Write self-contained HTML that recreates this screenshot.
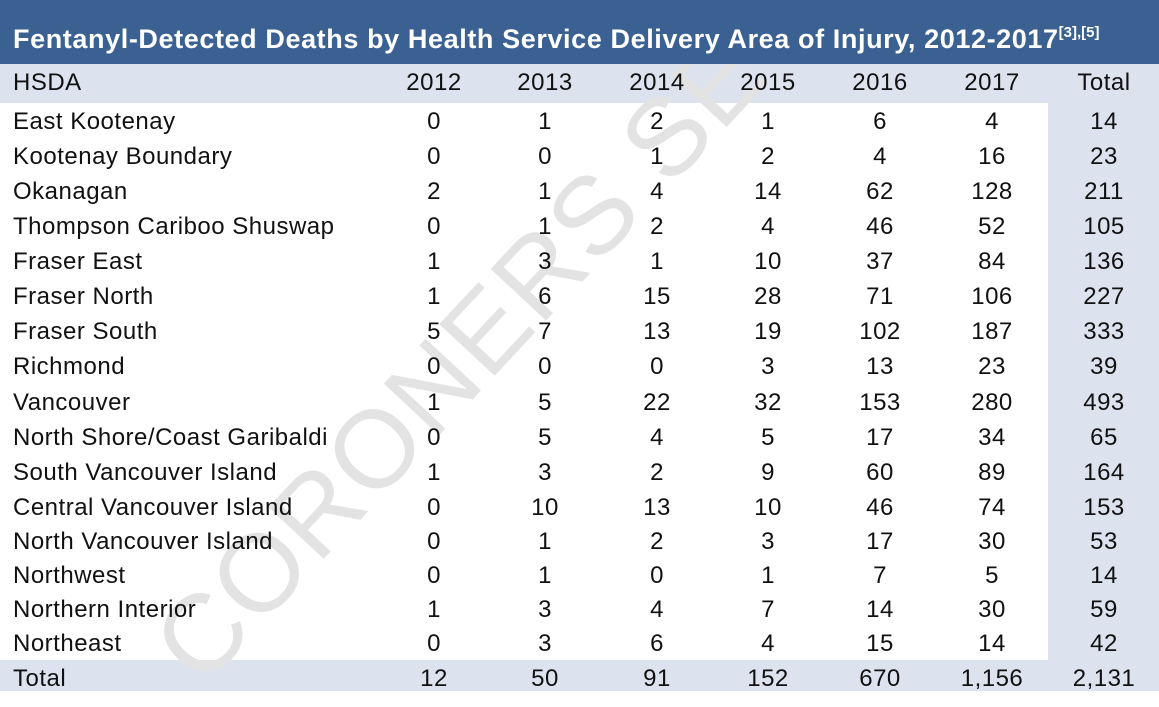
<!DOCTYPE html>
<html><head><style>
body{margin:0;width:1159px;height:691px;overflow:hidden;background:#fff;font-family:"Liberation Sans",sans-serif;position:relative}
.title{position:absolute;left:0;top:0;width:1159px;height:64px;background:#3a6192}
.tt{position:absolute;left:13px;top:24px;color:#fff;font-weight:bold;font-size:27px;line-height:30px;white-space:nowrap;letter-spacing:0.6px}
.tt sup{font-size:15px;position:relative;top:-11px;vertical-align:baseline;line-height:0;letter-spacing:0}
.hdr{position:absolute;left:0;top:64px;width:1159px;height:39px;background:#dce3ef}
.tot{position:absolute;left:0;top:660px;width:1159px;height:31px;background:#dce3ef}
.totc{position:absolute;left:1048px;top:64px;width:111px;height:627px;background:#dce3ef}
.r{position:absolute;left:0;width:1159px;font-size:24px;color:#111;height:34px;line-height:34px;letter-spacing:0.5px}
.r span{position:absolute;text-align:center;width:100px}
.r span.n{left:13px;text-align:left;width:400px}
.wm{position:absolute;font-size:110px;color:#e3e3e3;transform:rotate(-47deg);transform-origin:left center;white-space:nowrap;letter-spacing:2px}
</style></head><body>
<div class="hdr"></div><div class="tot"></div><div class="totc"></div>
<div class="wm" style="left:175px;top:600px">CORONERS SE</div>
<div class="title"><div class="tt">Fentanyl-Detected Deaths by Health Service Delivery Area of Injury, 2012-2017<sup>[3],[5]</sup></div></div>
<div id="t"></div>
<script>
var rows=[["HSDA","2012","2013","2014","2015","2016","2017","Total"],
["East Kootenay",0,1,2,1,6,4,14],["Kootenay Boundary",0,0,1,2,4,16,23],["Okanagan",2,1,4,14,62,128,211],["Thompson Cariboo Shuswap",0,1,2,4,46,52,105],["Fraser East",1,3,1,10,37,84,136],["Fraser North",1,6,15,28,71,106,227],["Fraser South",5,7,13,19,102,187,333],["Richmond",0,0,0,3,13,23,39],["Vancouver",1,5,22,32,153,280,493],["North Shore/Coast Garibaldi",0,5,4,5,17,34,65],["South Vancouver Island",1,3,2,9,60,89,164],["Central Vancouver Island",0,10,13,10,46,74,153],["North Vancouver Island",0,1,2,3,17,30,53],["Northwest",0,1,0,1,7,5,14],["Northern Interior",1,3,4,7,14,30,59],["Northeast",0,3,6,4,15,14,42],["Total",12,50,91,152,670,"1,156","2,131"]];
var ys=[83,122,157,192,227,262,297,332,367,403,438,473,508,542,576,610,644,679];
var xs=[434,545,657,768,880,992,1104];
var h="";
rows.forEach(function(r,i){h+='<div class="r" style="top:'+(ys[i]-17)+'px"><span class="n">'+r[0]+'</span>';
for(var j=1;j<8;j++)h+='<span style="left:'+(xs[j-1]-50)+'px">'+r[j]+'</span>';h+='</div>';});
document.getElementById("t").innerHTML=h;
</script>
</body></html>
